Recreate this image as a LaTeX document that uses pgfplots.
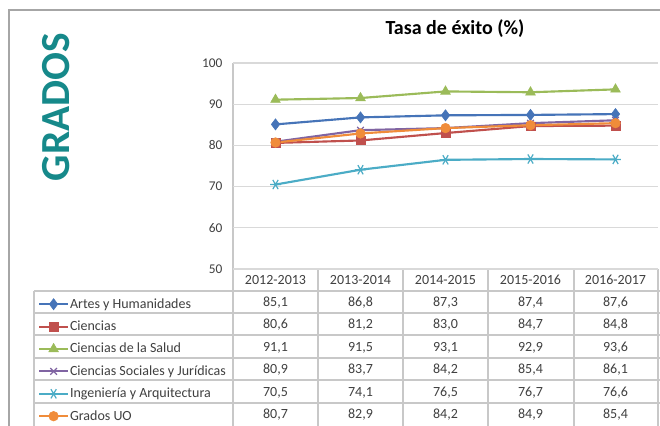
\documentclass[border=0pt]{standalone}
\usepackage{pgfplots}
\pgfplotsset{compat=1.18}
\usepackage{fontspec}
\setmainfont{Carlito}
\definecolor{sBlue}{HTML}{4674B8}
\definecolor{sRed}{HTML}{C0504D}
\definecolor{sGreen}{HTML}{9BBB59}
\definecolor{sPurple}{HTML}{8064A2}
\definecolor{sCyan}{HTML}{4BACC6}
\definecolor{sOrange}{HTML}{F08C3A}
\definecolor{tealT}{HTML}{16898A}
\definecolor{gridc}{HTML}{D9D9D9}
\definecolor{tabc}{HTML}{C8C8C8}
\definecolor{txt}{HTML}{404040}
\definecolor{framec}{HTML}{A6A6A6}
\newcommand{\rowvals}[6]{%
  \node at (275.5,#1) {#2};
  \node at (360.5,#1) {#3};
  \node at (445.5,#1) {#4};
  \node at (530.5,#1) {#5};
  \node at (615.5,#1) {#6};}
\begin{document}
\begin{tikzpicture}
\useasboundingbox (0pt,0pt) rectangle (495pt,-318.75pt);
\fill[white] (0pt,0pt) rectangle (495pt,-318.75pt);
\begin{scope}[x=0.75pt,y=-0.75pt]
  \draw[framec, line width=1.2pt] (9,440) -- (9,10) -- (670,10);
  \draw[tabc, line width=0.9pt] (233,63) -- (233,430);
  \foreach \x in {318,403,488,574,658} \draw[tabc, line width=0.9pt] (\x,269) -- (\x,430);
  \foreach \y in {291,313,335,358,380,403} \draw[tabc, line width=0.9pt] (34,\y) -- (670,\y);
  \draw[tabc, line width=0.9pt] (34,291) -- (34,430);
  \node[rotate=90, text=tealT, font=\fontsize{31}{31}\selectfont\bfseries, inner sep=0pt] at (56,107) {GRADOS};
  \node[anchor=base, font=\fontsize{15}{17}\selectfont\bfseries, text=black, inner sep=0pt] at (455,34) {Tasa de éxito (\%)};
  \begin{scope}[every node/.style={anchor=base, inner sep=0pt, text=txt, font=\fontsize{10.5}{12}\selectfont}]
    \rowvals{284.5}{2012-2013}{2013-2014}{2014-2015}{2015-2016}{2016-2017}
    \rowvals{306.5}{85,1}{86,8}{87,3}{87,4}{87,6}
    \rowvals{328.5}{80,6}{81,2}{83,0}{84,7}{84,8}
    \rowvals{351}{91,1}{91,5}{93,1}{92,9}{93,6}
    \rowvals{373.5}{80,9}{83,7}{84,2}{85,4}{86,1}
    \rowvals{396}{70,5}{74,1}{76,5}{76,7}{76,6}
    \rowvals{418}{80,7}{82,9}{84,2}{84,9}{85,4}
  \end{scope}
\end{scope}
\begin{axis}[
  at={(174.75pt,-201.75pt)}, anchor=south west,
  scale only axis, width=318.75pt, height=154.5pt,
  xmin=-0.5, xmax=4.5, ymin=50, ymax=100,
  xtick=\empty, ytick={50,60,...,100},
  ymajorgrids, major grid style={draw=gridc, line width=0.9pt},
  axis line style={draw=none},
  major tick length=0pt,
  /pgf/number format/assume math mode=true,
  yticklabel style={font=\fontsize{10}{12}\selectfont, text=txt, xshift=-4.5pt},
  legend style={at={(-0.4588,-0.1165)}, anchor=north west, draw=none, fill=none,
    inner sep=0pt, outer sep=0pt, row sep=0pt,
    font=\fontsize{10.5}{12}\selectfont, text=txt,
    nodes={minimum height=16.8pt, inner ysep=0pt, inner xsep=0.6pt}},
  legend cell align=left,
  legend image code/.code={\draw[mark repeat=2,mark phase=2] plot coordinates {(0pt,0pt) (10.9pt,0pt) (21.8pt,0pt)};},
  every axis plot/.append style={line width=1.6pt},
  clip=false,
]
\addplot[sBlue, mark=diamond*, mark size=4.2pt, mark options={line width=0.4pt}] coordinates {(0,85.1) (1,86.8) (2,87.3) (3,87.4) (4,87.6)};
\addlegendentry{Artes y Humanidades}
\addplot[sRed, mark=square*, mark size=3.2pt, mark options={line width=0.4pt}] coordinates {(0,80.6) (1,81.2) (2,83.0) (3,84.7) (4,84.8)};
\addlegendentry{Ciencias}
\addplot[sGreen, mark=triangle*, mark size=4.2pt, mark options={line width=0.4pt}] coordinates {(0,91.1) (1,91.5) (2,93.1) (3,92.9) (4,93.6)};
\addlegendentry{Ciencias de la Salud}
\addplot[sPurple, mark=x, mark size=3.5pt, mark options={line width=0.9pt}] coordinates {(0,80.9) (1,83.7) (2,84.2) (3,85.4) (4,86.1)};
\addlegendentry{Ciencias Sociales y Jurídicas}
\addplot[sCyan, mark=asterisk, mark size=4pt, mark options={line width=0.9pt, rotate=90}] coordinates {(0,70.5) (1,74.1) (2,76.5) (3,76.7) (4,76.6)};
\addlegendentry{Ingeniería y Arquitectura}
\addplot[sOrange, mark=*, mark size=3.6pt, mark options={line width=0.4pt}] coordinates {(0,80.7) (1,82.9) (2,84.2) (3,84.9) (4,85.4)};
\addlegendentry{Grados UO}
\end{axis}
\end{tikzpicture}
\end{document}
